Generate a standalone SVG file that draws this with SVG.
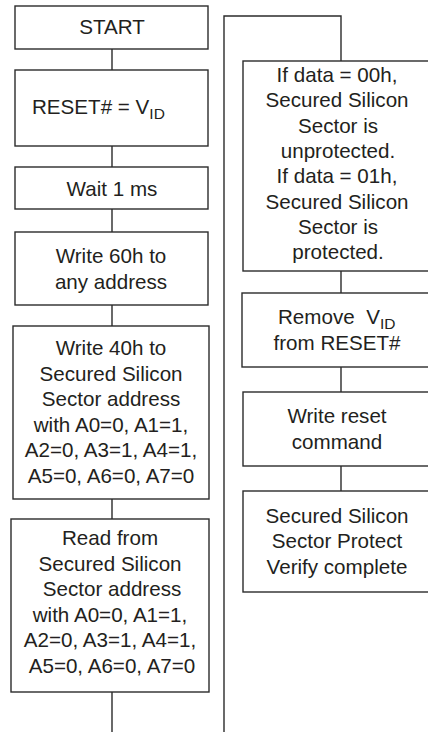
<svg xmlns="http://www.w3.org/2000/svg" width="428" height="732" viewBox="0 0 428 732">
<style>
rect{fill:#fff;stroke:#2b2b2b;stroke-width:1.4}
.c{fill:none;stroke:#2b2b2b;stroke-width:1.4}
text{font-family:"Liberation Sans",Arial,sans-serif;font-size:20.6px;fill:#231f20;text-anchor:middle}
.s{font-size:15.5px}
</style>
<g id="connectors">
<path class="c" d="M112 49V70M112 146V167M112 209V232M112 305V326M112 499V519M112 692V732"/>
<path class="c" d="M224 732V16H341V61"/>
<path class="c" d="M341 271V293M341 367V392M341 466V491"/>
</g>
<g id="start"><rect x="15" y="6" width="193" height="43"/><text x="112" y="34">START</text></g>
<g id="reset"><rect x="15" y="70" width="193" height="76"/><text x="32" y="114" style="text-anchor:start">RESET# = V<tspan class="s" dy="5">ID</tspan></text></g>
<g id="wait"><rect x="15" y="167" width="193" height="42"/><text x="112" y="196">Wait 1 ms</text></g>
<g id="write60"><rect x="15" y="232" width="193" height="73"/><text x="111" y="263">Write 60h to</text><text x="111" y="288.5">any address</text></g>
<g id="write40"><rect x="13" y="326" width="196" height="173"/>
<text x="111" y="355">Write 40h to</text><text x="111" y="380.6">Secured Silicon</text><text x="111" y="406.2">Sector address</text><text x="111" y="431.8">with A0=0, A1=1,</text><text x="111" y="457.4">A2=0, A3=1, A4=1,</text><text x="111" y="483">A5=0, A6=0, A7=0</text></g>
<g id="read"><rect x="11" y="519" width="198" height="173"/>
<text x="110" y="545">Read from</text><text x="110" y="570.6">Secured Silicon</text><text x="112" y="596.2">Sector address</text><text x="110" y="621.8">with A0=0, A1=1,</text><text x="110" y="647.4">A2=0, A3=1, A4=1,</text><text x="112" y="673">A5=0, A6=0, A7=0</text></g>
<g id="ifdata"><rect x="243" y="61" width="196" height="210"/>
<text x="337" y="82">If data = 00h,</text><text x="337" y="107.3">Secured Silicon</text><text x="338" y="132.6">Sector is</text><text x="338" y="157.9">unprotected.</text><text x="337" y="183.2">If data = 01h,</text><text x="337" y="208.5">Secured Silicon</text><text x="338" y="233.8">Sector is</text><text x="338" y="259">protected.</text></g>
<g id="remove"><rect x="242" y="293" width="197" height="74"/><text x="278" y="324" style="text-anchor:start">Remove&#160; V<tspan class="s" dy="5">ID</tspan></text><text x="337" y="349.5">from RESET#</text></g>
<g id="writereset"><rect x="243" y="392" width="196" height="74"/><text x="337" y="423">Write reset</text><text x="337" y="448.6">command</text></g>
<g id="complete"><rect x="243" y="491" width="196" height="101"/><text x="337" y="522.5">Secured Silicon</text><text x="337" y="548">Sector Protect</text><text x="337" y="573.6">Verify complete</text></g>
</svg>
